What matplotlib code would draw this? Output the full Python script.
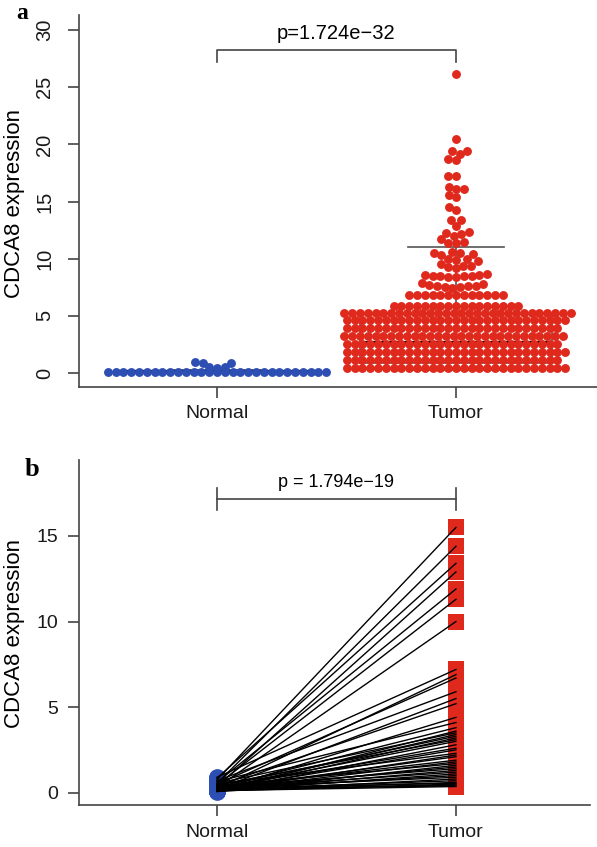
import numpy as np
import matplotlib.pyplot as plt

plt.rcParams['font.family'] = ['Liberation Sans', 'DejaVu Sans']

# ---- data ----
groups = ['Normal', 'Tumor']

# panel a: Normal (beeswarm)
normal_row_level = 0.12
normal_row_count = 29
normal_raised = [0.45, 0.5, 0.55, 0.85, 0.9, 0.95]

# panel a: Tumor, sparse upper points
tumor_upper = [26.2, 20.5, 19.4, 19.4, 19.2, 18.7, 18.6, 17.2, 17.2, 16.3,
               16.1, 16.1, 15.6, 15.4, 14.5, 14.3, 13.4, 13.4, 12.9, 12.3,
               12.25, 12.2, 12.0, 11.7, 11.5, 11.4, 11.35, 10.6, 10.5, 10.5,
               10.4, 10.3, 10.0, 10.0, 9.9, 9.8, 9.5, 9.4, 9.4, 9.3,
               9.2, 8.7, 8.6, 8.5, 8.5, 8.4, 8.5, 8.6, 8.4, 8.5,
               7.9, 7.8, 7.6, 7.5, 7.7, 7.6, 7.4, 7.5, 7.6]
# panel a: Tumor, dense lower rows (level, count)
tumor_row_levels = [0.45, 1.15, 1.85, 2.55, 3.2, 3.9, 4.6, 5.25, 5.9, 6.8]
tumor_row_counts = [29, 28, 29, 28, 29, 28, 29, 30, 17, 13]

# boxplot behind the swarm
box_q1 = [0.1, 0.9]
box_med = [0.12, 2.6]
box_q3 = [0.15, 5.2]
box_lo = [0.05, 0.3]
box_hi = [0.3, 11.0]

p_a = 'p=1.724e\u221232'

# panel b: paired samples
normal_b = [0.75, 0.55, 0.85, 0.35, 0.6, 0.45, 0.3, 0.9, 0.25, 0.5,
            0.7, 0.2, 0.4, 0.15, 0.65, 0.3, 0.1, 0.55, 0.2, 0.35,
            0.12, 0.45, 0.25, 0.08, 0.3, 0.18, 0.5, 0.1, 0.22, 0.28,
            0.15, 0.4, 0.06, 0.2, 0.32, 0.12, 0.25, 0.1, 0.18, 0.3,
            0.08, 0.2, 0.14, 0.26, 0.1, 0.16, 0.22, 0.12]
tumor_b = [15.5, 14.4, 13.4, 12.9, 11.9, 11.3, 10.0, 7.2, 6.9, 6.7,
           5.9, 5.5, 5.2, 4.4, 4.1, 3.8, 3.6, 3.5, 3.4, 3.3,
           3.2, 3.1, 3.0, 2.8, 2.6, 2.5, 2.3, 2.2, 2.1, 1.9,
           1.8, 1.7, 1.6, 1.5, 1.4, 1.3, 1.2, 1.1, 1.0, 0.9,
           0.8, 0.7, 0.6, 0.55, 0.5, 0.45, 0.4, 0.36]
p_b = 'p = 1.794e\u221219'

blue = '#2d4fb3'
red = '#e0291d'
axcol = '#444444'


def swarm(values, y_scale, d):
    # simple beeswarm in pixel units: each point goes to the free x nearest to 0
    y = np.asarray(values, dtype=float) * y_scale
    order = np.argsort(y, kind='stable')
    xs = np.zeros(len(y))
    px, py = [], []
    for i in order:
        yi = y[i]
        near = [(a, b) for a, b in zip(px, py) if abs(b - yi) < d]
        cands = [0.0]
        for a, b in near:
            h = np.sqrt(d * d - (b - yi) ** 2)
            cands += [a - h, a + h]
        if len(near) == 0 or all(abs(b - yi) < 1e-9 for a, b in near):
            # a flat row: centre it
            n = len(near)
            cands = [(k - n / 2) * d for k in range(n + 1)] + cands
        cands.sort(key=lambda c: (abs(c), c))
        for c in cands:
            if all((c - a) ** 2 + (b - yi) ** 2 >= d * d - 1e-6 for a, b in near):
                break
        xs[i] = c
        px.append(c)
        py.append(yi)
    return xs


def style_axes(ax):
    for s in ['top', 'right']:
        ax.spines[s].set_visible(False)
    for s in ['left', 'bottom']:
        ax.spines[s].set_color(axcol)
        ax.spines[s].set_linewidth(1.2)
    ax.tick_params(direction='out', length=8, width=1.2, color=axcol,
                   labelcolor='#1a1a1a')


W, H = 597, 847
fig = plt.figure(figsize=(W / 100, H / 100), dpi=100)

# ---------------- panel a ----------------
axa = fig.add_axes([79 / W, 1 - 387 / H, 518 / W, 372 / H])
xlim_a = (0.4226, 2.59)
ylim_a = (-1.22, 31.32)
axa.set_xlim(xlim_a)
axa.set_ylim(ylim_a)
xs_px = 518 / (xlim_a[1] - xlim_a[0])
ys_px = 372 / (ylim_a[1] - ylim_a[0])

stats = []
for k in range(2):
    stats.append(dict(q1=box_q1[k], med=box_med[k], q3=box_q3[k],
                      whislo=box_lo[k], whishi=box_hi[k], fliers=[]))
axa.bxp(stats, positions=[1, 2], widths=0.8, showfliers=False,
        boxprops=dict(color='#555555', lw=1.2),
        whiskerprops=dict(color='#555555', lw=1.2, ls='-'),
        capprops=dict(color='#555555', lw=1.2),
        medianprops=dict(color='black', lw=3), capwidths=0.4,
        manage_ticks=False, zorder=1)

dot = 7.8
msize = 41
# Normal
low_vals = [normal_row_level] * normal_row_count
off_low = swarm(low_vals, ys_px, dot)
off_up = swarm(normal_raised, ys_px, dot)
axa.scatter(1 + off_low / xs_px, low_vals, s=msize, color=blue, lw=0, zorder=3)
axa.scatter(1 + off_up / xs_px, normal_raised, s=msize, color=blue, lw=0, zorder=3)

# Tumor
tumor_vals = list(tumor_upper)
for lev, cnt in zip(tumor_row_levels, tumor_row_counts):
    tumor_vals += [lev] * cnt
off_t = np.clip(swarm(tumor_vals, ys_px, dot), -115, 115)
axa.scatter(2 + off_t / xs_px, tumor_vals, s=msize, color=red, lw=0, zorder=3)

style_axes(axa)
axa.set_yticks(range(0, 31, 5))
axa.set_yticklabels([str(v) for v in range(0, 31, 5)], fontsize=14.5,
                    rotation=90, va='center')
axa.tick_params(axis='y', pad=10)
axa.set_xticks([1, 2])
axa.set_xticklabels(groups, fontsize=14)
axa.tick_params(axis='x', pad=5)

axa.plot([1, 1, 2, 2], [27.2, 28.26, 28.26, 27.2], color=axcol, lw=1.2)
axa.text(1.5, 29.2, p_a, ha='center', va='baseline', fontsize=14.5)

# ---------------- panel b ----------------
axb = fig.add_axes([79 / W, 1 - 805 / H, 511 / W, 345 / H])
axb.set_xlim(0.4226, 2.561)
axb.set_ylim(-0.72, 19.44)

axb.scatter([1] * len(normal_b), normal_b, s=145, color=blue, marker='o',
            lw=0, zorder=2)
axb.scatter([2] * len(tumor_b), tumor_b, s=125, color=red, marker='s',
            lw=0, zorder=2)
for n, t in zip(normal_b, tumor_b):
    axb.plot([1, 2], [n, t], color='black', lw=1.0, zorder=3)

style_axes(axb)
axb.set_yticks([0, 5, 10, 15])
axb.set_yticklabels(['0', '5', '10', '15'], fontsize=14)
axb.tick_params(axis='y', pad=7)
axb.set_xticks([1, 2])
axb.set_xticklabels(groups, fontsize=14)
axb.tick_params(axis='x', pad=6)

axb.plot([1, 2], [17.17, 17.17], color=axcol, lw=1.2)
axb.plot([1, 1], [16.5, 17.8], color=axcol, lw=1.2)
axb.plot([2, 2], [16.5, 17.8], color=axcol, lw=1.2)
axb.text(1.5, 17.85, p_b, ha='center', va='baseline', fontsize=13)

# labels
fig.text(15 / W, 1 - 203 / H, 'CDCA8 expression', rotation=90,
         ha='center', va='center', fontsize=16)
fig.text(15 / W, 1 - 633 / H, 'CDCA8 expression', rotation=90,
         ha='center', va='center', fontsize=16)
fig.text(16 / W, 1 - 19 / H, 'a', family='Liberation Serif', weight='bold',
         fontsize=17)
fig.text(25 / W, 1 - 476 / H, 'b', family='Liberation Serif', weight='bold',
         fontsize=19)

fig.savefig('out.png', dpi=100)
